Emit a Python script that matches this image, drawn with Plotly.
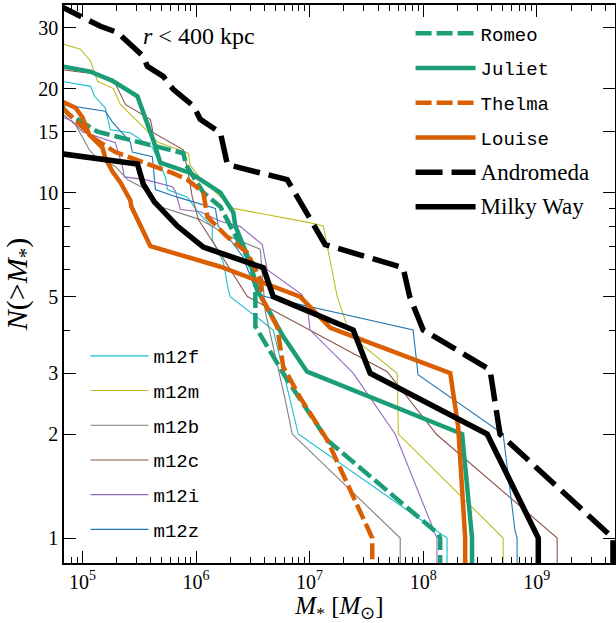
import plotly.graph_objects as go

# ---------------- data: cumulative satellite counts N(>M*) vs stellar mass M* [Msun]
m12f_m = [6.5e4, 1.18e5, 1.28e5, 1.59e5, 1.76e5, 2.64e5, 4.13e5, 5.37e5, 5.6e5, 8.4e5, 1.05e6, 1.39e6, 1.39e6, 1.74e6, 1.92e6, 2.0e6, 4.79e6, 7.95e6, 1.62e8]
m12f_n = [21.0, 20.3, 19.0, 17.6, 15.2, 14.9, 13.5, 11.1, 10.2, 9.7, 8.75, 7.97, 7.3, 6.27, 5.25, 5.0, 4.0, 2.0, 1.0]

m12m_m = [6.5e4, 9.6e4, 1.18e5, 1.36e5, 1.87e5, 2.16e5, 3.43e5, 4.57e5, 8.55e5, 8.9e5, 1.09e6, 2.13e6, 9.7e6, 1.32e7, 1.43e7, 1.68e7, 1.75e7, 2.14e7, 2.96e7, 5.89e7, 6.05e7, 5.05e8]
m12m_n = [27.0, 26.0, 24.0, 21.0, 20.0, 18.0, 15.5, 14.0, 13.0, 12.0, 11.0, 9.0, 8.2, 8.0, 7.0, 5.25, 5.0, 4.1, 3.6, 3.0, 2.0, 1.0]

m12b_m = [6.5e4, 8.7e4, 1.15e5, 1.30e5, 1.95e5, 2.49e5, 3.37e5, 4.85e5, 1.09e6, 2.0e6, 3.68e6, 4.07e6, 6.1e6, 7.03e6, 6.27e7]
m12b_n = [17.0, 15.7, 13.3, 12.7, 11.9, 10.9, 10.35, 9.1, 8.35, 7.45, 6.85, 4.52, 2.51, 2.0, 1.0]

m12c_m = [6.5e4, 1.36e5, 1.87e5, 2.39e5, 3.96e5, 4.2e5, 7.73e5, 8.55e5, 9.27e5, 1.05e6, 1.42e6, 2.0e6, 2.83e6, 4.82e7, 1.32e8, 1.51e9]
m12c_n = [22.7, 22.0, 21.3, 18.0, 16.3, 14.9, 13.3, 11.4, 9.7, 8.35, 7.16, 6.0, 5.0, 3.03, 1.99, 1.0]

m12i_m = [6.5e4, 8.17e4, 1.0e5, 1.95e5, 2.25e5, 2.34e5, 3.58e5, 6.19e5, 6.6e5, 7.28e5, 1.09e6, 1.64e6, 2.46e6, 3.83e6, 4.23e6, 8.6e6, 9.7e6, 1.01e7, 2.42e7, 5.66e7, 1.32e8]
m12i_n = [16.6, 16.1, 15.0, 13.95, 11.9, 11.1, 10.9, 10.4, 10.06, 8.93, 8.8, 8.26, 7.97, 7.07, 5.98, 5.06, 4.48, 4.0, 3.0, 2.0, 1.0]

m12z_m = [6.5e4, 1.59e5, 1.84e5, 2.64e5, 2.75e5, 4.13e5, 4.39e5, 6.85e5, 1.48e6, 1.57e6, 2.0e6, 2.6e6, 3.46e6, 8.15e7, 9.0e7, 5.05e8, 6.43e8, 6.7e8]
m12z_n = [18.0, 17.2, 16.0, 14.0, 13.1, 12.7, 10.2, 9.7, 9.0, 8.0, 7.3, 6.5, 5.06, 4.0, 2.97, 2.0, 1.05, 1.0]

romeo_m = [6.5e4, 7.6e4, 9.0e4, 1.36e5, 7.73e5, 8.2e5, 1.16e6, 1.64e6, 2.13e6, 2.83e6, 3.33e6, 3.33e6, 3.9e6, 6.35e6, 1.43e7, 4.18e7, 1.35e8, 1.41e8]
romeo_n = [17.9, 16.8, 16.3, 15.0, 13.0, 12.0, 10.0, 9.1, 7.7, 6.5, 5.5, 4.1, 3.75, 2.87, 1.92, 1.42, 1.03, 1.0]

juliet_m = [6.5e4, 1.18e5, 1.87e5, 3.05e5, 4.2e5, 4.85e5, 8.9e5, 1.64e6, 2.13e6, 2.22e6, 3.0e6, 3.46e6, 5.86e6, 9.5e6, 2.2e8, 2.69e8]
juliet_n = [23.2, 22.4, 21.0, 19.0, 14.2, 12.2, 11.4, 10.0, 8.75, 8.0, 6.27, 5.23, 3.83, 3.03, 2.0, 1.0]

thelma_m = [6.5e4, 9.4e4, 1.30e5, 1.95e5, 3.37e5, 6.19e5, 8.4e5, 1.16e6, 1.26e6, 1.88e6, 2.83e6, 3.68e6, 3.75e6, 5.19e6, 5.86e6, 8.26e6, 1.43e7, 2.27e7, 3.21e7, 3.56e7]
thelma_n = [17.7, 15.7, 14.25, 13.1, 12.3, 11.4, 10.9, 10.0, 8.5, 7.45, 6.7, 5.6, 5.0, 4.08, 3.13, 2.55, 1.92, 1.38, 1.076, 1.0]

louise_m = [6.5e4, 8.7e4, 1.0e5, 1.15e5, 1.5e5, 1.59e5, 1.84e5, 2.16e5, 2.64e5, 2.7e5, 3.96e5, 1.64e6, 8.26e6, 1.52e7, 1.73e8, 2.03e8, 2.34e8]
louise_n = [18.4, 17.6, 16.5, 14.7, 13.5, 12.6, 11.5, 10.7, 9.5, 9.1, 7.0, 6.1, 5.0, 4.06, 3.0, 2.1, 1.0]

andromeda_m = [6.0e4, 1.44e5, 2.03e5, 3.43e5, 3.73e5, 5.15e5, 6.3e5, 9.5e5, 1.09e6, 1.64e6, 1.89e6, 6.35e6, 1.37e7, 6.65e7, 7.6e7, 1.0e8, 3.87e8, 4.74e8, 4.68e9]
andromeda_n = [35.0, 30.3, 29.1, 24.8, 23.2, 21.7, 19.9, 17.8, 16.3, 14.9, 12.05, 10.9, 7.07, 6.06, 5.0, 4.0, 3.07, 2.0, 1.0]

milkyway_m = [6.0e4, 3.05e5, 3.43e5, 4.3e5, 6.85e5, 1.16e6, 3.91e6, 4.79e6, 2.42e7, 3.41e7, 3.65e8, 1.03e9]
milkyway_n = [13.0, 12.1, 10.6, 9.4, 8.0, 6.95, 6.06, 5.0, 4.0, 3.0, 2.0, 1.0]

x_tickvals = [1e5, 1e6, 1e7, 1e8, 1e9]
x_ticktext = ["10<sup>5</sup>", "10<sup>6</sup>", "10<sup>7</sup>", "10<sup>8</sup>", "10<sup>9</sup>"]
y_tickvals = [1, 2, 3, 5, 10, 15, 20, 30]
y_ticktext = ["1", "2", "3", "5", "10", "15", "20", "30"]

GREEN = "#1b9e77"
ORANGE = "#d95f02"
SERIF = "Liberation Serif"
MONO = "Liberation Mono"

fig = go.Figure()

FLOOR = 0.5  # below the axis bottom: the curve drops out of the frame after the last satellite


def add(name, m, n, color, width, dash, legend, rank):
    xs = list(m) + [m[-1]]
    ys = list(n) + [FLOOR]
    fig.add_trace(go.Scatter(
        x=xs, y=ys, mode="lines", name=name,
        line=dict(color=color, width=width, dash=dash),
        legend=legend, legendgroup=name, legendrank=rank,
        hoverinfo="skip"))


thin = [("m12f", m12f_m, m12f_n, "#17becf"),
        ("m12m", m12m_m, m12m_n, "#bcbd22"),
        ("m12b", m12b_m, m12b_n, "#7f7f7f"),
        ("m12c", m12c_m, m12c_n, "#8c564b"),
        ("m12i", m12i_m, m12i_n, "#9467bd"),
        ("m12z", m12z_m, m12z_n, "#1f77b4")]
for i, (nm, m, n, c) in enumerate(thin):
    add(nm, m, n, c, 1.1, "solid", "legend2", 100 + i)

serif_span = '<span style="font-family:Liberation Serif;font-size:23px">%s</span>'
add("Romeo", romeo_m, romeo_n, GREEN, 4.5, "16px,5px", "legend", 1)
add("Juliet", juliet_m, juliet_n, GREEN, 4.5, "solid", "legend", 2)
add("Thelma", thelma_m, thelma_n, ORANGE, 4.5, "16px,5px", "legend", 3)
add("Louise", louise_m, louise_n, ORANGE, 4.5, "solid", "legend", 4)
add(serif_span % "Andromeda", andromeda_m, andromeda_n, "black", 5.5, "27px,9px", "legend", 5)
add(serif_span % "Milky Way", milkyway_m, milkyway_n, "black", 5.5, "solid", "legend", 6)

minor_x = [k * 10 ** d for d in range(4, 10) for k in range(2, 10)]

axis_common = dict(showgrid=False, showline=True, linecolor="black", linewidth=1.5,
                   mirror="allticks", ticks="inside", tickcolor="black", tickwidth=1.2,
                   zeroline=False, automargin=False,
                   tickfont=dict(family=SERIF, size=20, color="black"))

fig.update_layout(
    width=616, height=623,
    margin=dict(l=64, r=1, t=5, b=60),
    paper_bgcolor="white", plot_bgcolor="white",
    font=dict(family=SERIF, size=20, color="black"),
    xaxis=dict(type="log", range=[4.838, 9.688], tickmode="array",
               tickvals=x_tickvals, ticktext=x_ticktext, ticklen=12,
               minor=dict(tickmode="array", tickvals=minor_x, ticklen=6, ticks="inside",
                          tickcolor="black", tickwidth=1, showgrid=False),
               title=dict(text="<i>M</i><sub>*</sub> [<i>M</i><sub>⊙</sub>]",
                          font=dict(family=SERIF, size=25), standoff=6),
               **axis_common),
    yaxis=dict(type="log", range=[-0.0723, 1.543], tickmode="array",
               tickvals=y_tickvals, ticktext=y_ticktext, ticklen=12,
               minor=dict(tickmode="array", tickvals=[4, 6, 7, 8, 9], ticklen=6, ticks="inside",
                          tickcolor="black", tickwidth=1, showgrid=False),
               title=dict(text="<i>N</i>(&gt;<i>M</i><sub>*</sub>)",
                          font=dict(family=SERIF, size=30), standoff=3),
               **axis_common),
    legend=dict(x=0.629, xanchor="left", y=0.983, yanchor="top",
                bgcolor="rgba(0,0,0,0)", font=dict(family=MONO, size=19, color="black"),
                itemwidth=60, tracegroupgap=7, traceorder="grouped"),
    legend2=dict(x=0.039, xanchor="left", y=0.405, yanchor="top",
                 bgcolor="rgba(0,0,0,0)", font=dict(family=MONO, size=19, color="black"),
                 itemwidth=58, tracegroupgap=7, traceorder="grouped"),
    showlegend=True,
    annotations=[dict(text="<i>r</i> < 400 kpc", x=0.245, y=0.945, xref="paper", yref="paper",
                      xanchor="center", yanchor="middle", showarrow=False,
                      font=dict(family=SERIF, size=24, color="black"))],
)

fig.write_html("out.html")
